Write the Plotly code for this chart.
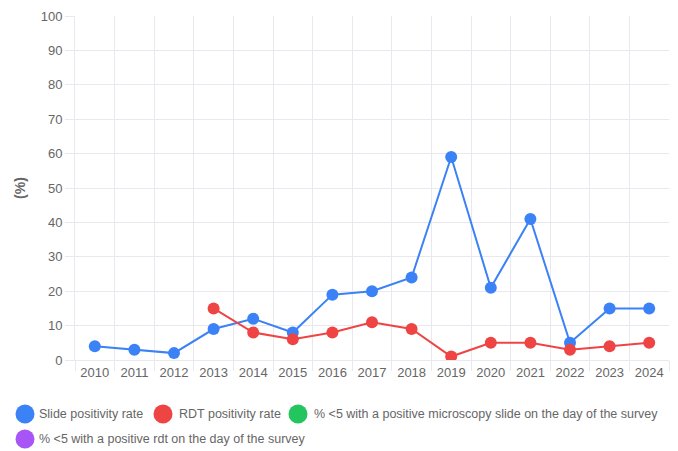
import plotly.graph_objects as go

years = [str(y) for y in range(2010, 2025)]
slide_positivity = [4, 3, 2, 9, 12, 8, 19, 20, 24, 59, 21, 41, 5, 15, 15]
rdt_positivity = [None, None, None, 15, 8, 6, 8, 11, 9, 1, 5, 5, 3, 4, 5]
micro_under5 = [None] * 15
rdt_under5 = [None] * 15

series_names = [
    "Slide positivity rate",
    "RDT positivity rate",
    "% <5 with a positive microscopy slide on the day of the survey",
    "% <5 with a positive rdt on the day of the survey",
]
series_colors = ["#3b82f6", "#ef4444", "#22c55e", "#a855f7"]
series_values = [slide_positivity, rdt_positivity, micro_under5, rdt_under5]

W, H = 678, 451
L, R, T, B = 75, 9, 16, 91
PW, PH = W - L - R, H - T - B
FONT = "Liberation Sans, Arial, Helvetica, sans-serif"
GRID = "#e8e8ee"
TXT = "#666666"

fig = go.Figure()
for name, color, vals in zip(series_names, series_colors, series_values):
    fig.add_trace(go.Scatter(
        x=years, y=vals, name=name, mode="lines+markers",
        line=dict(color=color, width=2),
        marker=dict(color=color, size=12),
        connectgaps=False, showlegend=False,
    ))


def px_x(px):
    return (px - L) / PW


def px_y(py):
    return (H - B - py) / PH


# custom legend (Chart.js style circles)
legend_rows = [(414, [(25, 37, 0), (163, 177, 1), (298, 312, 2)]), (439, [(25, 37, 3)])]
shapes = []
annotations = []
for py, items in legend_rows:
    for cx, tx, idx in items:
        shapes.append(dict(
            type="circle", xref="paper", yref="paper",
            xsizemode="pixel", ysizemode="pixel",
            xanchor=px_x(cx), yanchor=px_y(py),
            x0=-9.5, x1=9.5, y0=-9.5, y1=9.5,
            fillcolor=series_colors[idx], line=dict(width=0),
        ))
        annotations.append(dict(
            xref="paper", yref="paper", x=px_x(tx), y=px_y(py),
            xanchor="left", yanchor="middle", showarrow=False,
            text=series_names[idx], font=dict(family=FONT, size=12.5, color=TXT),
        ))

fig.update_layout(
    width=W, height=H,
    margin=dict(l=L, r=R, t=T, b=B, pad=0),
    paper_bgcolor="white", plot_bgcolor="white",
    font=dict(family=FONT, color=TXT, size=13),
    showlegend=False,
    shapes=shapes, annotations=annotations,
    xaxis=dict(
        type="category", range=[-0.5, 14.5], tickson="boundaries",
        showgrid=True, gridcolor=GRID, gridwidth=1,
        ticks="outside", ticklen=10, tickcolor=GRID,
        showline=True, linecolor=GRID, mirror=False,
        tickfont=dict(size=13, color=TXT), fixedrange=True,
    ),
    yaxis=dict(
        range=[0, 100], tick0=0, dtick=10,
        showgrid=True, gridcolor=GRID, gridwidth=1,
        zeroline=True, zerolinecolor=GRID, zerolinewidth=1,
        ticks="outside", ticklen=9, tickcolor=GRID,
        showline=True, linecolor=GRID,
        tickfont=dict(size=13, color=TXT),
        title=dict(text="<b>(%)</b>", font=dict(size=14, color=TXT), standoff=11),
        fixedrange=True,
    ),
)

fig.write_html(
    "out.html",
    config={"displayModeBar": False},
    post_script="document.body.style.margin='0';document.body.style.overflow='hidden';",
)
